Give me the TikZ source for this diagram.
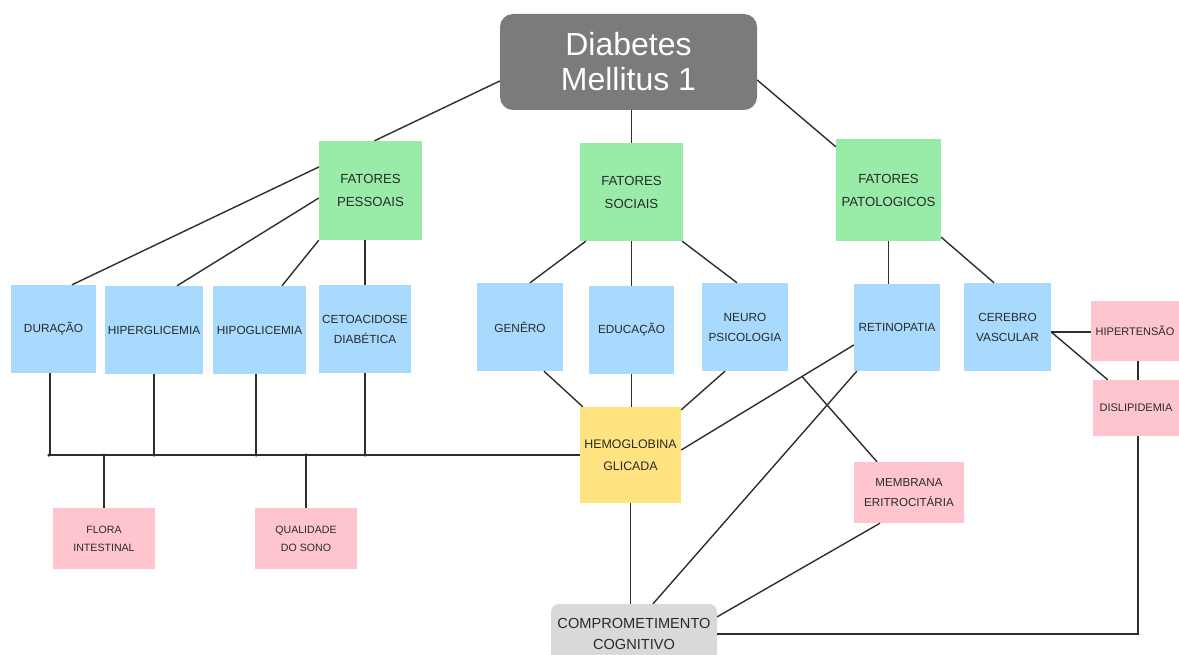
\documentclass[tikz,border=0pt]{standalone}
\usepackage{fontspec}
\setmainfont{Liberation Sans}
\usetikzlibrary{calc}
\definecolor{tgray}{HTML}{7B7B7B}
\definecolor{cgray}{HTML}{D9D9D9}
\definecolor{gbox}{HTML}{98ECA8}
\definecolor{bbox}{HTML}{A7DAFD}
\definecolor{pbox}{HTML}{FFC5CE}
\definecolor{ybox}{HTML}{FFE381}
\definecolor{txt}{HTML}{2A2A2A}
\definecolor{ln}{HTML}{2E2E2E}
\tikzset{
  basebox/.style={inner sep=0pt, align=center, text=txt},
  greenbox/.style={basebox, fill=gbox, font=\fontsize{13.2}{23}\selectfont},
  bluebox/.style={basebox, fill=bbox, font=\fontsize{11.8}{20}\selectfont},
  pinkbox/.style={basebox, fill=pbox, font=\fontsize{11.6}{20}\selectfont},
  edgepink/.style={basebox, fill=pbox, font=\fontsize{11}{20}\selectfont},
  smallpink/.style={basebox, fill=pbox, font=\fontsize{10.6}{18}\selectfont},
  yellowbox/.style={basebox, fill=ybox, font=\fontsize{12.4}{22}\selectfont},
  titlebox/.style={basebox, fill=tgray, text=white, rounded corners=13pt, font=\fontsize{32}{35}\selectfont},
  compbox/.style={basebox, fill=cgray, rounded corners=8pt, font=\fontsize{14.6}{21.5}\selectfont},
  conn/.style={draw=ln, line width=1.4pt},
  jdot/.style={fill=ln, circle, inner sep=0pt, minimum size=3.5pt}
}
\begin{document}
\begin{tikzpicture}[x=1pt,y=-1pt]
\useasboundingbox (0,0) rectangle (1179,655);
\clip (0,0) rectangle (1179,655);
\fill[white] (0,0) rectangle (1179,655);

\node[titlebox, minimum width=257, minimum height=96] (title) at (628.5,62) {Diabetes\\Mellitus 1};
\node[greenbox, minimum width=103, minimum height=99] (pess) at (370.5,190.5) {FATORES\\PESSOAIS};
\node[greenbox, minimum width=103, minimum height=98] (soc) at (631.5,192) {FATORES\\SOCIAIS};
\node[greenbox, minimum width=105, minimum height=102] (pat) at (888.5,190) {FATORES\\PATOLOGICOS};

\node[bluebox, minimum width=85, minimum height=88] (dur) at (53.5,329) {DURAÇÃO};
\node[bluebox, minimum width=98, minimum height=88] (hiper) at (154,330) {HIPERGLICEMIA};
\node[bluebox, minimum width=93, minimum height=88] (hipo) at (259.5,330) {HIPOGLICEMIA};
\node[bluebox, minimum width=92, minimum height=88] (ceto) at (365,329) {CETOACIDOSE\\DIABÉTICA};
\node[bluebox, minimum width=86, minimum height=88] (gen) at (520,327) {GENÊRO};
\node[bluebox, minimum width=85, minimum height=88] (edu) at (631.5,330) {EDUCAÇÃO};
\node[bluebox, minimum width=86, minimum height=88] (neuro) at (745,327) {NEURO\\PSICOLOGIA};
\node[bluebox, minimum width=86, minimum height=87] (ret) at (897,327.5) {RETINOPATIA};
\node[bluebox, minimum width=87, minimum height=88] (cer) at (1007.5,327) {CEREBRO\\VASCULAR};

\node[yellowbox, minimum width=101, minimum height=96] (hemo) at (630.5,455) {HEMOGLOBINA\\GLICADA};

\node[edgepink, minimum width=88, minimum height=60] (hip) at (1135,331) {HIPERTENSÃO};
\node[edgepink, minimum width=86, minimum height=56] (dis) at (1136,408) {DISLIPIDEMIA};
\node[pinkbox, minimum width=110, minimum height=61] (memb) at (909,492.5) {MEMBRANA\\ERITROCITÁRIA};
\node[smallpink, minimum width=102, minimum height=61] (flora) at (104,538.5) {FLORA\\INTESTINAL};
\node[smallpink, minimum width=102, minimum height=61] (qual) at (306,538.5) {QUALIDADE\\DO SONO};

\node[compbox, minimum width=166, minimum height=60] (comp) at (634,634) {COMPROMETIMENTO\\COGNITIVO};

% top level
\draw[conn] ([yshift=-19pt]title.west) -- ([xshift=4pt]pess.north);
\draw[conn] (soc.north |- title.south) -- (soc.north);
\draw[conn] ([yshift=-18pt]title.east) -- ([yshift=-8pt]pat.north west);

% pessoais
\draw[conn] ([yshift=23.5pt]pess.west) -- ([xshift=18.5pt]dur.north);
\draw[conn] ([yshift=-7.5pt]pess.west) -- ([xshift=23pt]hiper.north);
\draw[conn] (pess.south west) -- ([xshift=22.5pt]hipo.north);
\draw[conn] (ceto.north |- pess.south) -- (ceto.north);

% sociais
\draw[conn] ([xshift=6pt]soc.south west) -- ([xshift=10pt]gen.north);
\draw[conn] (soc.south) -- (soc.south |- edu.north);
\draw[conn] ([xshift=-1pt]soc.south east) -- ([xshift=-8pt]neuro.north);

% patologicos
\draw[conn] (pat.south) -- (pat.south |- ret.north);
\draw[conn] ([yshift=4pt]pat.south east) -- ([xshift=-13.5pt]cer.north);

% bus
\coordinate (busL) at (49,455);
\draw[conn] (busL) -- (hemo.west);
\draw[conn] ([xshift=-3.5pt]dur.south) -- ([xshift=-3.5pt]dur.south |- busL);
\draw[conn] (hiper.south) -- (hiper.south |- busL);
\draw[conn] ([xshift=-3.5pt]hipo.south) -- ([xshift=-3.5pt]hipo.south |- busL);
\draw[conn] (ceto.south) -- (ceto.south |- busL);
\draw[conn] (flora.north |- busL) -- (flora.north);
\draw[conn] (qual.north |- busL) -- (qual.north);
\foreach \p in {(busL),(flora.north |- busL),(qual.north |- busL),(hiper.south |- busL),(ceto.south |- busL)}
  \node[jdot] at \p {};
\node[jdot] at ([xshift=-3.5pt]hipo.south |- busL) {};

% to hemoglobina
\draw[conn] ([xshift=24pt]gen.south) -- ([xshift=3pt]hemo.north west);
\draw[conn] (edu.south) -- (edu.south |- hemo.north);
\draw[conn] ([xshift=-20pt]neuro.south) -- ([yshift=-3pt]hemo.north east);

% hemo - retinopatia - membrana
\coordinate (hr1) at ([yshift=5pt]hemo.east);
\coordinate (hr2) at ([yshift=-17.5pt]ret.west);
\draw[conn] (hr1) -- (hr2);
\coordinate (jm) at ($(hr1)!0.70!(hr2)$);
\draw[conn] (jm) -- ([xshift=-32pt]memb.north);

% to comprometimento
\draw[conn] ([xshift=3pt]ret.south west) -- ([xshift=19pt]comp.north);
\draw[conn] ([xshift=-29pt]memb.south) -- ([yshift=-13pt]comp.north east);
\draw[conn] (hemo.south) -- (hemo.south |- comp.north);
\coordinate (corner) at ([xshift=2pt]dis.south |- comp.east);
\draw[conn] (comp.east) -- (corner) -- ([xshift=2pt]dis.south);
\node[jdot, minimum size=2.5pt] at (corner) {};

% cerebro vascular
\coordinate (ce) at ([yshift=-5pt]cer.east);
\draw[conn] (ce) -- ([yshift=-1pt]hip.west);
\draw[conn] (ce) -- ([xshift=15pt]dis.north west);
\draw[conn] ([xshift=3pt]hip.south) -- ([xshift=2pt]dis.north);
\end{tikzpicture}
\end{document}
